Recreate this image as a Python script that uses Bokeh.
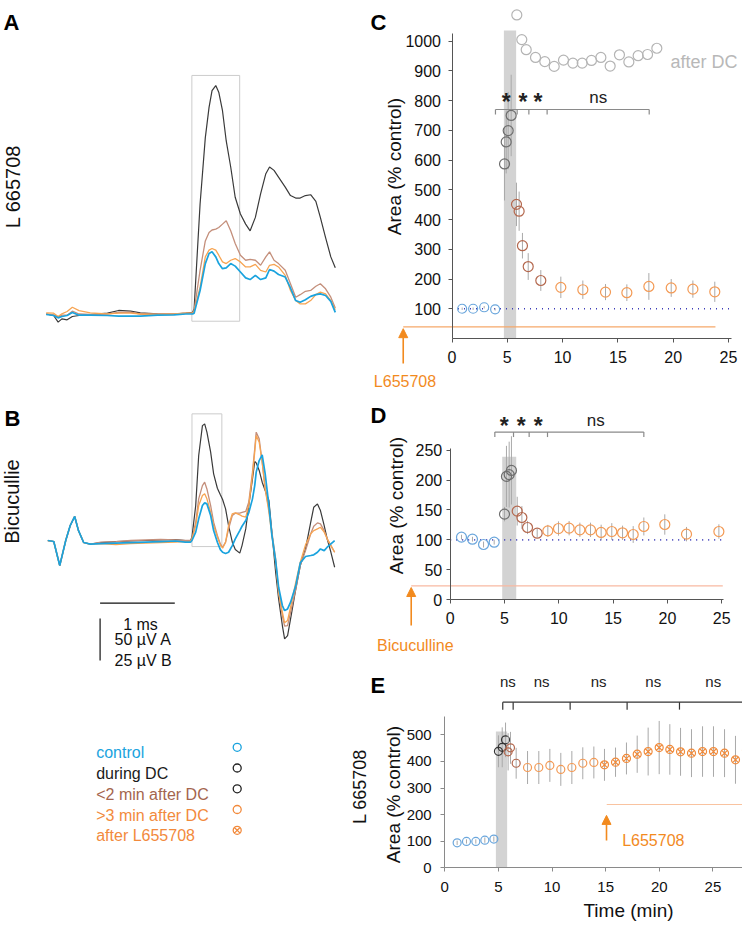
import numpy as np
from bokeh.plotting import figure
from bokeh.models import Range1d, LinearAxis, FixedTicker, Arrow, NormalHead
from bokeh.core.properties import value
from bokeh.embed import file_html
from bokeh.resources import INLINE

FONT = "Liberation Sans"

# ---------------- Panel A traces (time in ms, amplitude in uV) ----------------
a_t = [0.00, 0.10, 0.16, 0.21, 0.28, 0.35, 0.44, 0.59, 0.82, 0.97, 1.13, 1.26, 1.49, 1.71,
       1.87, 1.96, 1.98, 2.06, 2.13, 2.18, 2.22, 2.27, 2.31, 2.36, 2.41, 2.47, 2.53, 2.60,
       2.67, 2.73, 2.80, 2.87, 2.94, 2.99, 3.05, 3.11, 3.20, 3.27, 3.34, 3.40, 3.47, 3.54,
       3.61, 3.67, 3.74, 3.81, 3.87]
a_black = [0, -1.8, -9.7, -5.8, -6.9, -3, -1.8, -0.6, 1, 4.2, 3.4, 1.4, 0.2, 0,
           1, 2, 6, 131, 210, 246, 266, 272, 264, 242, 206, 175, 139, 119, 107, 99, 115,
           143, 167, 175, 171, 163, 151, 141, 138, 138, 141, 142, 134, 115, 91, 68, 55]
a_brown = [0, -1, -3.8, -1.4, -1.4, 3.4, 0, -0.6, 0, 1.8, 2.2, 0, 0, 0,
           1, 1, 4, 52, 87, 97, 100, 101, 103, 107, 111, 99, 84, 70, 64, 65, 64, 58, 68,
           74, 64, 60, 52, 36, 20, 23, 27, 28, 33, 36, 30, 20, 7]
a_orange = [1.4, 1, -3, 0.2, 3, 8, 4, 1.4, 0.2, 1, 1, 0, -0.6, 0,
            1, 1, 3, 32, 68, 76, 78, 76, 70, 62, 60, 64, 66, 62, 56, 56, 59, 52, 50, 58,
            59, 56, 46, 28, 16, 12, 12, 16, 23, 26, 24, 16, 5]
a_blue = [-0.6, -1.8, -4.6, -3, -1.8, 1.8, -1.4, -1.4, -1.8, -2.6, -2.6, -2.6, -1.4, -1,
          0, 0, 1, 28, 60, 72, 74, 68, 60, 54, 55, 60, 57, 50, 43, 41, 46, 41, 43, 53,
          51, 47, 44, 31, 16, 14, 17, 21, 23, 24, 22, 15, 2]
a_box_t = [1.95, 2.59]
a_box_v = [-8.6, 284]

# ---------------- Panel B traces (time in ms, amplitude in uV) ----------------
b_t = [0.00, 0.08, 0.16, 0.24, 0.30, 0.36, 0.41, 0.48, 0.57, 0.71, 0.91, 1.11, 1.31, 1.51, 1.71,
       1.84, 1.91, 1.93, 1.98, 2.02, 2.07, 2.10, 2.13, 2.18, 2.22, 2.27, 2.31, 2.34, 2.38,
       2.42, 2.47, 2.51, 2.57, 2.60, 2.65, 2.69, 2.74, 2.77, 2.79, 2.83, 2.87, 2.91, 2.96,
       3.00, 3.05, 3.09, 3.14, 3.17, 3.21, 3.25, 3.32, 3.38, 3.45, 3.52, 3.56, 3.61, 3.65,
       3.70, 3.74, 3.79, 3.84]
b_black = [1.0, 0.4, -13.9, 1.0, 9.9, 15.3, 7.0, -0.2, -1.1, -0.2, 0.4, 0.7, 1.0, 1.3, 1.6,
           1.0, 1.0, 3.0, 21.8, 51.6, 69.4, 70.4, 65.5, 53.6, 40.7, 32.1, 28.2, 25.4, 19.8,
           9.9, 0, -4.4, -6.5, -2.0, 7.9, 21.8, 37.7, 48.0, 47.2, 42.7, 35.7, 30.8, 24.8,
           6.0, -17.9, -33.7, -49.6, -57.5, -55.6, -45.6, -27.8, -13.9, -4.0, 11.9, 20.8,
           22.8, 18.8, 9.9, 2.0, -6.0, -14.9]
b_brown = [1.0, 0.4, -13.9, 1.0, 9.9, 15.3, 7.0, -0.2, -1.1, 0.1, 0.4, 1.0, 1.3, 1.6, 1.3,
           1, 1, 2, 11.9, 25.8, 33.7, 35.7, 31.7, 21.8, 11.9, 4.0, -1.0, -3.0, 0, 7.9, 15.9,
           17.3, 17.3, 17.7, 18.3, 23.8, 41.7, 55.6, 65.5, 61.5, 47.6, 31.7, 19.8, 6.0,
           -9.9, -29.8, -43.7, -50.0, -49.6, -41.7, -27.8, -13.9, -5.0, 5.0, 9.5, 11.5,
           10.9, 6.9, 2.0, -2.0, -6.0]
b_orange = [1.0, 0.4, -13.9, 1.0, 9.9, 15.3, 7.0, -0.2, -1.1, -0.8, -1.4, -0.8, -0.5, -0.2, 0.1,
            0.4, 0.4, 2, 9.9, 21.8, 27.8, 28.8, 25.8, 17.9, 9.9, 3.0, -1.6, -3.6, 0, 9.9,
            16.9, 17.5, 16.3, 15.5, 14.9, 21.8, 39.7, 53.6, 63.5, 59.5, 47.6, 31.7, 17.9,
            4.0, -11.9, -29.8, -41.7, -48.0, -46.6, -38.7, -23.8, -11.9, -1.6, 5.0, 6.9,
            7.9, 8.9, 6.0, 2.0, -2.0, -6.0]
b_blue = [1.0, 0.4, -13.9, 1.0, 9.9, 15.3, 7.0, -0.2, -1.1, -0.8, -0.5, -0.2, 0.1, 0.4, 0.7,
          0, 0, 1, 6.0, 13.9, 21.8, 23.4, 22.8, 15.9, 6.9, 0, -4.4, -6.0, -6.7, -6.0, -2.0,
          2.0, 6.9, 9.5, 12.9, 17.5, 25.8, 33.7, 41.7, 48.6, 52.0, 40.7, 21.8, 4.0, -10.9,
          -26.8, -37.7, -40.7, -39.7, -35.7, -25.8, -12.3, -8.5, -7.9, -7.5, -6.0, -4.0,
          -5.0, -3.0, -1.0, 1.0]
b_box_t = [1.93, 2.33]
b_box_v = [-2.6, 76.4]
scale_ms = 1.0      # horizontal scale bar (ms)
scale_uv_b = 25.0   # vertical scale bar in B units (uV)

# ---------------- Panel C (time in min, area % control) ----------------
c_ctrl_t = [0.92, 1.91, 2.91, 3.90]
c_ctrl_v = [100, 100, 105, 98]
c_ctrl_e = [4, 4, 4, 4]
c_dc_t = [4.75, 4.90, 5.08, 5.35]
c_dc_v = [587, 661, 699, 750]
c_dc_e = [123, 106, 130, 137]
c_b2_t = [5.83, 6.07, 6.37, 6.89, 8.03]
c_b2_v = [451, 428, 312, 242, 195]
c_b2_e = [73, 66, 43, 45, 35]
c_a3_t = [9.84, 11.83, 13.88, 15.81, 17.80, 19.82, 21.78, 23.76]
c_a3_v = [172, 164, 156, 154, 175, 170, 166, 157]
c_a3_e = [36, 31, 27, 28, 45, 30, 29, 34]
c_after_t = [5.86, 6.31, 6.71, 7.55, 8.39, 9.24, 10.08, 10.93, 11.77, 12.61, 13.46,
             14.30, 15.14, 15.99, 16.83, 17.68, 18.52]
c_after_v = [1088, 1005, 971, 945, 931, 915, 936, 926, 926, 935, 945, 916, 954, 930,
             951, 955, 976]
c_band = [4.69, 5.80, 1036]
c_brk = [3.93, 5.89, 6.95, 8.60, 17.83]
c_brk_lbl = ["*", "*", "*", "ns"]
c_drug = 39          # level of drug bar

# ---------------- Panel D ----------------
d_ctrl_t = [1.04, 2.05, 3.07, 4.05]
d_ctrl_v = [104.6, 101.2, 92.3, 96.2]
d_ctrl_e = [4, 4, 5, 4]
d_dc_t = [5.00, 5.18, 5.43, 5.64]
d_dc_v = [143, 206, 209, 216]
d_dc_e = [12, 51, 55, 57]
d_b2_t = [6.17, 6.60, 7.12, 8.01]
d_b2_v = [148, 137.4, 120.7, 111.2]
d_b2_e = [24, 19, 11, 7]
d_a3_t = [8.99, 9.97, 10.95, 11.94, 12.92, 13.90, 14.88, 15.87, 16.85, 17.83, 19.76, 21.76, 24.74]
d_a3_v = [115.1, 119.0, 119.6, 116.8, 116.8, 112.4, 114.0, 111.8, 109.0, 122.4, 125.7, 109.6, 114.0]
d_a3_e = [10, 12, 12, 12, 12, 13, 14, 12, 14, 15, 17, 12, 12]
d_band = [4.79, 6.08, 239]
d_brk = [4.11, 5.83, 7.27, 8.96, 17.83]
d_brk_lbl = ["*", "*", "*", "ns"]
d_drug = 23.4

# ---------------- Panel E ----------------
e_ctrl_t = [1.16, 2.03, 2.90, 3.74, 4.58]
e_ctrl_v = [94, 99, 99, 104, 108]
e_ctrl_e = [8, 8, 8, 10, 10]
e_dc_t = [5.01, 5.36, 5.67]
e_dc_v = [438, 453, 481]
e_dc_e = [60, 75, 65]
e_b2_t = [5.91, 6.13, 6.66]
e_b2_v = [436, 451, 393]
e_b2_e = [70, 60, 58]
e_a3_t = [7.72, 8.77, 9.80, 10.82, 11.85, 12.87, 13.90]
e_a3_v = [377, 377, 385, 370, 377, 393, 396]
e_a3_e = [62, 62, 62, 62, 62, 60, 60]
e_l6_t = [14.89, 15.92, 16.94, 17.94, 18.96, 19.99, 20.98, 21.98, 23.00, 24.03, 25.05,
          26.08, 27.10, 28.13]
e_l6_v = [387, 397, 411, 427, 437, 452, 445, 436, 431, 437, 437, 431, 406, 442]
e_l6_e = [60, 55, 60, 70, 90, 100, 95, 90, 90, 95, 95, 90, 90, 90]
e_band = [4.77, 5.82, 512]
e_brk = [5.41, 6.38, 11.69, 17.0, 21.88, 28.18]
e_brk_lbl = ["ns", "ns", "ns", "ns", "ns"]
e_drug = 238

legend_labels = ["control", "during DC", "<2 min after DC", ">3 min after DC", "after L655708"]

# ---------------- colours ----------------
C_BLUE_T = "#1aa3de"
C_BLACK_T = "#3a3a3a"
C_BROWN_T = "#c48f7b"
C_ORANGE_T = "#f7a452"
C_BLUE_P = "#6aa6dc"
C_DC_P = "#6e6e6e"
C_BROWN_P = "#b4684e"
C_ORANGE_P = "#f39a55"
C_AFTER = "#b4b4b4"
C_ERR = "#a9a9a9"
C_ARROW = "#f28a1e"
C_DOT = "#3c3cb8"

# ---------------- figure: one canvas, pixel default range ----------------
W, H = 742, 922
p = figure(width=W, height=H, x_range=Range1d(0, W), y_range=Range1d(H, 0),
           x_axis_type=None, y_axis_type=None, toolbar_location=None,
           output_backend="svg", min_border=0, title=None)
p.outline_line_color = None
p.background_fill_color = "white"

# panel geometry: (x origin px, px per unit, y origin px, px per unit)
geom = {
    "a": (45.7, 74.7, 313.5, 0.84),
    "b": (47.3, 74.7, 541.7, 1.68),
    "c": (451.5, 11.06, 338.0, 0.2974),
    "d": (449.7, 10.86, 599.3, 0.599),
    "e": (444.2, 10.73, 867.3, 0.266),
}
xr, yr = {}, {}
for k, (x0, sx, y0, sy) in geom.items():
    xr[k] = Range1d((0 - x0) / sx, (W - x0) / sx)
    yr[k] = Range1d((y0 - H) / sy, (y0 - 0) / sy)
p.extra_x_ranges = xr
p.extra_y_ranges = yr


def R(k):
    return dict(x_range_name=k, y_range_name=k)


def txt(x, y, s, k="default", size="16px", color="#111111", align="left",
        baseline="alphabetic", angle=0.0, style="normal"):
    p.text(x=[x], y=[y], text=[s], text_font=value(FONT), text_font_size=value(size),
           text_color=color, text_align=align, text_baseline=baseline, angle=angle,
           text_font_style=style, **R(k))


def axes(k, xb, yb, xt, yt, color, fs, xst, yst):
    xa = LinearAxis(fixed_location=0, bounds=xb, ticker=FixedTicker(ticks=xt), **R(k))
    ya = LinearAxis(fixed_location=0, bounds=yb, ticker=FixedTicker(ticks=yt), **R(k))
    for ax, st in ((xa, xst), (ya, yst)):
        ax.axis_line_color = color
        ax.axis_line_width = 1
        ax.major_tick_line_color = color
        ax.major_tick_out = 4
        ax.major_tick_in = 0
        ax.minor_tick_line_color = None
        ax.major_label_text_font = FONT
        ax.major_label_text_font_size = fs
        ax.major_label_text_color = "#111111"
        ax.major_label_standoff = st
    p.add_layout(xa, "below")
    p.add_layout(ya, "left")


def points(k, t, v, e, color, size, marker="circle", lw=1.2, err_color=C_ERR):
    t = np.asarray(t, float)
    v = np.asarray(v, float)
    if e is not None:
        e = np.asarray(e, float)
        p.segment(x0=t, y0=v - e, x1=t, y1=v + e, line_color=err_color, line_width=1, **R(k))
    p.scatter(x=t, y=v, marker=marker, size=size, fill_color=None, line_color=color,
              line_width=lw, **R(k))


def bracket(k, xs, y, tick, color, labels, lab_y_star, lab_y_ns, fs_star, fs_ns):
    n = len(xs)
    p.segment(x0=[xs[0]], y0=[y], x1=[xs[-1]], y1=[y], line_color=color, line_width=1.2, **R(k))
    p.segment(x0=xs, y0=[y] * n, x1=xs, y1=[y - tick] * n, line_color=color, line_width=1.2, **R(k))
    for i, lab in enumerate(labels):
        mid = 0.5 * (xs[i] + xs[i + 1])
        if lab == "*":
            txt(mid, lab_y_star, lab, k, size=fs_star, color="#222222", align="center", style="bold")
        else:
            txt(mid, lab_y_ns, lab, k, size=fs_ns, color="#222222", align="center")


def band(k, b):
    p.quad(left=[b[0]], right=[b[1]], bottom=[0], top=[b[2]], fill_color="#d3d3d3",
           line_color=None, **R(k))


def arrow(k, x, tail, tip):
    p.add_layout(Arrow(end=NormalHead(size=9, fill_color=C_ARROW, line_color=C_ARROW, line_width=1),
                       x_start=x, y_start=tail, x_end=x, y_end=tip, line_color=C_ARROW,
                       line_width=1.6, **R(k)))


# ---------------- A ----------------
p.quad(left=[a_box_t[0]], right=[a_box_t[1]], bottom=[a_box_v[0]], top=[a_box_v[1]],
       fill_color=None, line_color="#cccccc", line_width=1, **R("a"))
for ys, col, lw in ((a_black, C_BLACK_T, 1.2), (a_brown, C_BROWN_T, 1.3),
                    (a_orange, C_ORANGE_T, 1.3), (a_blue, C_BLUE_T, 1.7)):
    p.line(a_t, ys, line_color=col, line_width=lw, **R("a"))

# ---------------- B ----------------
p.quad(left=[b_box_t[0]], right=[b_box_t[1]], bottom=[b_box_v[0]], top=[b_box_v[1]],
       fill_color=None, line_color="#cccccc", line_width=1, **R("b"))
for ys, col, lw in ((b_black, C_BLACK_T, 1.2), (b_brown, C_BROWN_T, 1.3),
                    (b_orange, C_ORANGE_T, 1.3), (b_blue, C_BLUE_T, 1.7)):
    p.line(b_t, ys, line_color=col, line_width=lw, **R("b"))

# scale bar (drawn in B units)
sb_t0, sb_v0 = 0.70, -36.3
p.segment(x0=[sb_t0], y0=[sb_v0], x1=[sb_t0 + scale_ms], y1=[sb_v0], line_color="#111111",
          line_width=1.2, **R("b"))
p.segment(x0=[sb_t0], y0=[sb_v0 - 9.1], x1=[sb_t0], y1=[sb_v0 - 9.1 - scale_uv_b],
          line_color="#111111", line_width=1.2, **R("b"))
txt(140, 623.5, "1 ms", size="16px", align="center")
txt(114, 638.5, "50 \u00b5V A", size="16px")
txt(114, 659.5, "25 \u00b5V B", size="16px")

# ---------------- C ----------------
band("c", c_band)
p.segment(x0=[0], y0=[100], x1=[25.09], y1=[100], line_color=C_DOT, line_width=1.6,
          line_dash="1 5", **R("c"))
p.segment(x0=[-4.41], y0=[c_drug], x1=[23.82], y1=[c_drug], line_color="#f6a86a",
          line_width=1.2, **R("c"))
arrow("c", -4.41, -84, 33)
txt(-4.25, -145, "L655708", "c", size="16px", color=C_ARROW, align="center")
points("c", c_after_t, c_after_v, None, C_AFTER, 10)
points("c", c_ctrl_t, c_ctrl_v, c_ctrl_e, C_BLUE_P, 9)
points("c", c_dc_t, c_dc_v, c_dc_e, C_DC_P, 10)
points("c", c_b2_t, c_b2_v, c_b2_e, C_BROWN_P, 10)
points("c", c_a3_t, c_a3_v, c_a3_e, C_ORANGE_P, 10)
txt(19.76, 929, "after DC", "c", size="18px", color="#b8b8b8")
bracket("c", c_brk, 770, 17, "#8a8a8a", c_brk_lbl, 795, 810, "23px", "17px")
axes("c", (0, 25.27), (0, 1025), [0, 5, 10, 15, 20, 25], list(range(100, 1001, 100)),
     "#555555", "16px", 8, 7)

# ---------------- D ----------------
band("d", d_band)
p.segment(x0=[0], y0=[100], x1=[25.35], y1=[100], line_color=C_DOT, line_width=1.6,
          line_dash="1 5", **R("d"))
p.segment(x0=[-3.59], y0=[d_drug], x1=[25.1], y1=[d_drug], line_color="#f8b9a2",
          line_width=1.2, **R("d"))
arrow("d", -3.59, -43, 20.5)
txt(-3.21, -76, "Bicuculline", "d", size="16px", color=C_ARROW, align="center")
points("d", d_ctrl_t, d_ctrl_v, d_ctrl_e, C_BLUE_P, 10)
points("d", d_dc_t, d_dc_v, d_dc_e, C_DC_P, 10)
points("d", d_b2_t, d_b2_v, d_b2_e, C_BROWN_P, 10)
points("d", d_a3_t, d_a3_v, d_a3_e, C_ORANGE_P, 10)
bracket("d", d_brk, 280, 8.3, "#8a8a8a", d_brk_lbl, 290, 299.3, "23px", "17px")
axes("d", (0, 25.2), (0, 252), [0, 5, 10, 15, 20, 25], [0, 50, 100, 150, 200, 250],
     "#555555", "16px", 8, 4)

# ---------------- E ----------------
band("e", e_band)
p.segment(x0=[15.1], y0=[e_drug], x1=[30], y1=[e_drug], line_color="#f9c3a0",
          line_width=1.2, **R("e"))
arrow("e", 15.08, 103, 197)
txt(16.54, 102.6, "L655708", "e", size="16px", color=C_ARROW)
points("e", e_ctrl_t, e_ctrl_v, e_ctrl_e, C_BLUE_P, 8)
points("e", e_dc_t, e_dc_v, e_dc_e, "#333333", 8)
points("e", e_b2_t, e_b2_v, e_b2_e, C_BROWN_P, 8)
points("e", e_a3_t, e_a3_v, e_a3_e, C_ORANGE_P, 8)
points("e", e_l6_t, e_l6_v, e_l6_e, "#f08a3a", 8, marker="circle_x")
bracket("e", e_brk, 622.6, 28, "#333333", e_brk_lbl, 700, 701.6, "15px", "15px")
axes("e", (0, 29), (0, 570), [0, 5, 10, 15, 20, 25], [0, 100, 200, 300, 400, 500],
     "#8a8a8a", "15px", 10, 9)

# ---------------- axis titles & panel labels (page pixel positions) ----------------
txt(394, 166, "Area (% control)", size="19px", align="center", baseline="middle", angle=np.pi / 2)
txt(396, 505, "Area (% control)", size="19px", align="center", baseline="middle", angle=np.pi / 2)
txt(393, 794, "Area (% control)", size="19px", align="center", baseline="middle", angle=np.pi / 2)
txt(628, 910, "Time (min)", size="19px", align="center")
txt(12.5, 186, "L 665708", size="20px", align="center", baseline="middle", angle=np.pi / 2)
txt(11, 501, "Bicucullie", size="20px", align="center", baseline="middle", angle=np.pi / 2)
txt(359, 786, "L 665708", size="18px", align="center", baseline="middle", angle=np.pi / 2)

for s, x, y in (("A", 3, 21.7), ("B", 4, 418.3), ("C", 370, 21.7), ("D", 370, 415), ("E", 370, 685)):
    txt(x, y, s, size="22px", color="#000000", style="bold")

# ---------------- legend ----------------
leg_text_col = [C_BLUE_T, "#1a1a1a", "#a4654e", "#f28a3c", "#f28a3c"]
leg_mark_col = [C_BLUE_T, "#222222", "#222222", "#f28a3c", "#f28a3c"]
leg_marker = ["circle", "circle", "circle", "circle", "circle_x"]
leg_base = [752.3, 773.0, 793.8, 814.5, 835.3]
for lab, tc, mc, mk, yb in zip(legend_labels, leg_text_col, leg_mark_col, leg_marker, leg_base):
    txt(95.7, yb, lab, size="16px", color=tc)
    p.scatter(x=[236.7], y=[yb - 5.5], marker=mk, size=8, fill_color=None, line_color=mc,
              line_width=1.3)

open("out.html", "w").write(file_html(p, INLINE))
